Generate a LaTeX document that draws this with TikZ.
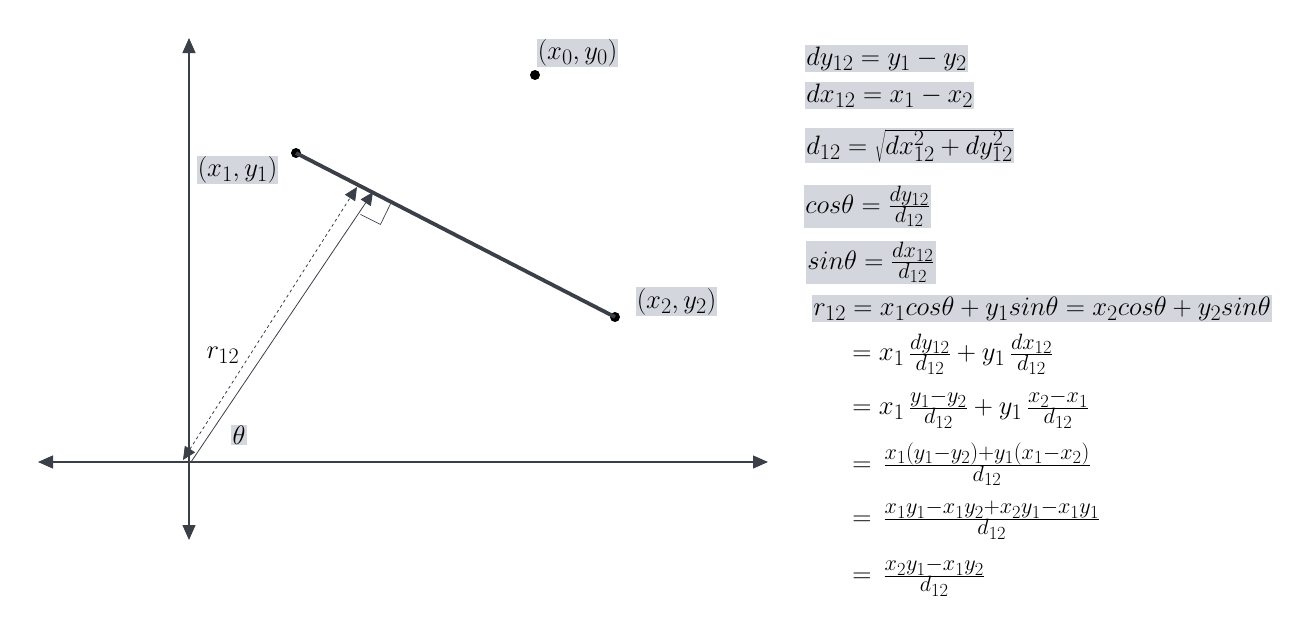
\documentclass[tikz,border=0pt]{standalone}
\usepackage{graphicx}
\usetikzlibrary{arrows.meta}
\definecolor{ink}{HTML}{3A3F48}
\definecolor{hl}{HTML}{D3D7DD}
\newcommand{\mysc}[1]{\scalebox{1.07}{#1}}
\tikzset{
  axis/.style={draw=ink, line width=1.1pt, {Triangle[length=15pt,width=13pt]}-{Triangle[length=15pt,width=13pt]}},
  dotnode/.style={circle, fill=black, inner sep=0pt, minimum size=10pt},
  seg/.style={draw=ink, line width=3.8pt},
  hlbox/.style={fill=hl, inner sep=1.2pt, font=\fontsize{24.88}{30}\selectfont},
  eqplain/.style={inner sep=1.2pt, font=\fontsize{24.88}{30}\selectfont},
  perp/.style={draw=ink, line width=0.8pt, -{Triangle[length=13pt,width=12pt]}},
  perpdash/.style={draw=ink, line width=0.8pt, dashed, {Triangle[length=13pt,width=12pt]}-{Triangle[length=13pt,width=12pt]}},
}
\begin{document}
\begin{tikzpicture}[x=1pt,y=-1pt]
\useasboundingbox (0,0) rectangle (1296,640);
% axes
\coordinate (top) at (189,38);
\coordinate (bot) at (189,540);
\coordinate (lft) at (38,462);
\coordinate (rgt) at (768,462);
\draw[axis] (top) -- (bot);
\draw[axis] (lft) -- (rgt);
% points
\node[dotnode] (P0) at (535,75) {};
\node[dotnode] (P1) at (296,153) {};
\node[dotnode] (P2) at (615,317) {};
\draw[seg] (P1.center) -- (P2.center);
% perpendicular
\coordinate (O) at (191,462);
\coordinate (F) at (373,192);
\coordinate (Od) at (183,460);
\coordinate (Fd) at (357,187);
\draw[perp] (O) -- (F);
\draw[perpdash] (Od) -- (Fd);
% right angle square
\coordinate (S1) at (391.6,201.6);
\coordinate (S2) at (380.5,224.4);
\coordinate (S3) at (360.5,214.4);
\draw[ink, line width=0.7pt] (S1) -- (S2) -- (S3);
% labels
\node[hlbox] (L1) at (237.5,170) {\mysc{$(x_1,y_1)$}};
\node[hlbox] (L0) at (577.5,53) {\mysc{$(x_0,y_0)$}};
\node[hlbox] (L2) at (676.5,301.5) {\mysc{$(x_2,y_2)$}};
\node[eqplain] (Lr) at (223,355) {\mysc{$r_{12}$}};
\node[hlbox] (Lt) at (239,435) {\mysc{$\theta$}};
% equations
\node[hlbox, anchor=west] (E1) at (805,58.5) {\mysc{$dy_{12}=y_1-y_2$}};
\node[hlbox, anchor=west] (E2) at (805,95.5) {\mysc{$dx_{12}=x_1-x_2$}};
\node[hlbox, anchor=west] (E3) at (805,145.5) {\mysc{$d_{12}=\sqrt{\vphantom{\Big(}dx_{12}^2+dy_{12}^2}$}};
\node[hlbox, anchor=west] (E4) at (804,206.5) {\mysc{$cos\theta=\frac{dy_{12}}{d_{12}}$}};
\node[hlbox, anchor=west] (E5) at (806,262.5) {\mysc{$sin\theta=\frac{dx_{12}}{d_{12}}$}};
\node[hlbox, anchor=west] (E6) at (812,308.5) {\mysc{$r_{12}=x_1cos\theta+y_1sin\theta=x_2cos\theta+y_2sin\theta$}};
\node[eqplain, anchor=west] (E7) at (851,354) {\mysc{$=x_1\,\frac{dy_{12}}{d_{12}}+y_1\,\frac{dx_{12}}{d_{12}}$}};
\node[eqplain, anchor=west] (E8) at (851,409) {\mysc{$=x_1\,\frac{y_1-y_2}{d_{12}}+y_1\,\frac{x_2-x_1}{d_{12}}$}};
\node[eqplain, anchor=west] (E9) at (851,464) {\mysc{$=\,\frac{x_1(y_1-y_2)+y_1(x_1-x_2)}{d_{12}}$}};
\node[eqplain, anchor=west] (E10) at (851,520) {\mysc{$=\,\frac{x_1y_1-x_1y_2+x_2y_1-x_1y_1}{d_{12}}$}};
\node[eqplain, anchor=west] (E11) at (851,577) {\mysc{$=\,\frac{x_2y_1-x_1y_2}{d_{12}}$}};
\end{tikzpicture}
\end{document}
